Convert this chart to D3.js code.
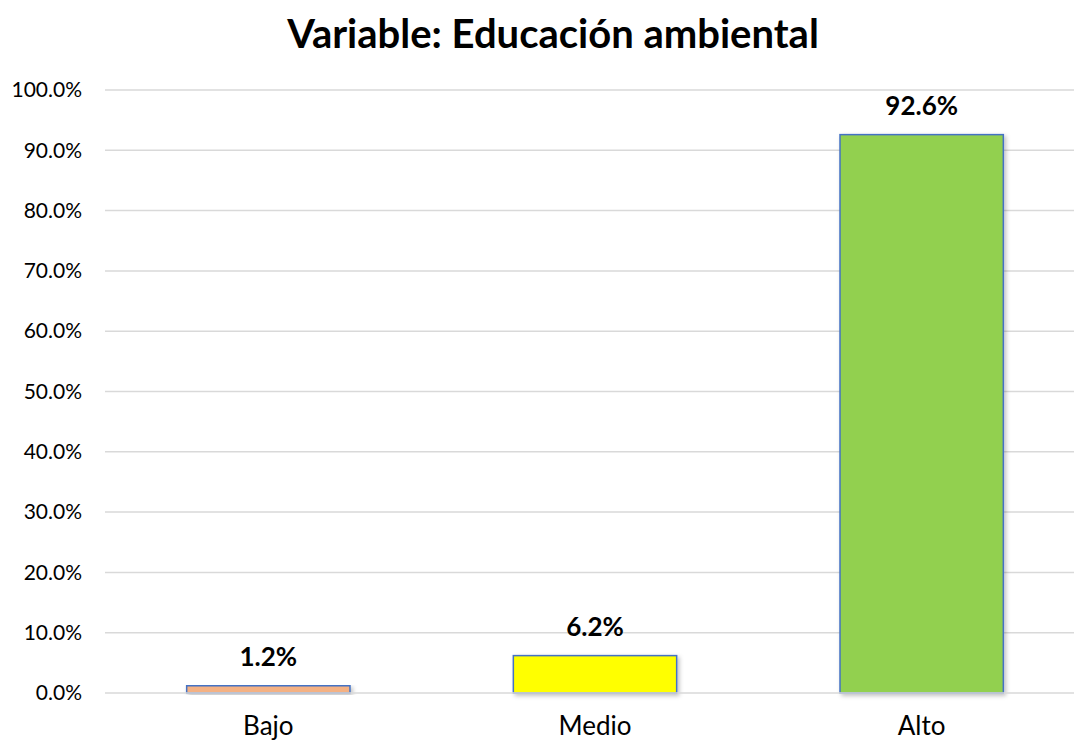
<!DOCTYPE html>
<html>
<head>
<meta charset="utf-8">
<script src="https://cdn.jsdelivr.net/npm/d3@7"></script>
<style>
  html, body { margin: 0; padding: 0; background: #fff; }
  svg { display: block; }
</style>
</head>
<body>
<svg id="chart" width="1074" height="744"></svg>
<script>
// Chart data
const categories = ["Bajo", "Medio", "Alto"];
const values = [1.2, 6.2, 92.6];
const barColors = ["#F4B183", "#FFFF00", "#92D050"];
const yTicks = [0, 10, 20, 30, 40, 50, 60, 70, 80, 90, 100];
const title = "Variable: Educación ambiental";

const svg = d3.select("#chart");
const fontFamily = "Lato, 'Open Sans', sans-serif";

const x = d3.scaleBand()
  .domain(categories)
  .range([105, 1085])
  .paddingInner(0.5)
  .paddingOuter(0.25);

const y = d3.scaleLinear()
  .domain([0, 100])
  .range([693, 90]);

// Shadow filter for bars
const defs = svg.append("defs");
const f = defs.append("filter").attr("id", "shadow")
  .attr("x", "-10%").attr("y", "-10%").attr("width", "130%").attr("height", "130%");
f.append("feDropShadow").attr("dx", 2).attr("dy", 2).attr("stdDeviation", 2)
  .attr("flood-color", "#000").attr("flood-opacity", 0.25);

// Title
svg.append("text")
  .attr("x", 553).attr("y", 48)
  .attr("text-anchor", "middle")
  .attr("font-family", fontFamily)
  .attr("font-weight", "bold")
  .attr("font-size", 40)
  .attr("fill", "#000")
  .text(title);

// Gridlines
svg.append("g")
  .selectAll("line")
  .data(yTicks.filter(d => d > 0))
  .join("line")
  .attr("x1", 105).attr("x2", 1074)
  .attr("y1", d => y(d)).attr("y2", d => y(d))
  .attr("stroke", "#D9D9D9").attr("stroke-width", 1.5);

// Y axis
const yAxis = d3.axisLeft(y)
  .tickValues(yTicks)
  .tickFormat(d => d.toFixed(1) + "%")
  .tickSize(0)
  .tickPadding(23);
const yg = svg.append("g").attr("transform", "translate(105,0)").call(yAxis);
yg.select(".domain").remove();
yg.selectAll("text")
  .attr("font-family", fontFamily)
  .attr("font-size", 21)
  .attr("fill", "#000");

// Bars
svg.append("g")
  .selectAll("rect")
  .data(values)
  .join("rect")
  .attr("x", (d, i) => x(categories[i]))
  .attr("y", d => y(d))
  .attr("width", x.bandwidth())
  .attr("height", d => y(0) - y(d))
  .attr("fill", (d, i) => barColors[i])
  .attr("stroke", "#4472C4")
  .attr("stroke-width", 1.5)
  .attr("filter", "url(#shadow)");

// Baseline axis
svg.append("line")
  .attr("x1", 105).attr("x2", 1074)
  .attr("y1", y(0)).attr("y2", y(0))
  .attr("stroke", "#D9D9D9").attr("stroke-width", 1.5);

// X axis labels
const xAxis = d3.axisBottom(x).tickSize(0).tickPadding(24);
const xg = svg.append("g").attr("transform", `translate(0,${y(0)})`).call(xAxis);
xg.select(".domain").remove();
xg.selectAll("text")
  .attr("font-family", fontFamily)
  .attr("font-size", 26)
  .attr("fill", "#000");

// Value labels
svg.append("g")
  .selectAll("text")
  .data(values)
  .join("text")
  .attr("x", (d, i) => x(categories[i]) + x.bandwidth() / 2)
  .attr("y", d => y(d) - 20)
  .attr("text-anchor", "middle")
  .attr("font-family", fontFamily)
  .attr("font-weight", "bold")
  .attr("font-size", 26)
  .attr("fill", "#000")
  .text(d => d.toFixed(1) + "%");
</script>
</body>
</html>
